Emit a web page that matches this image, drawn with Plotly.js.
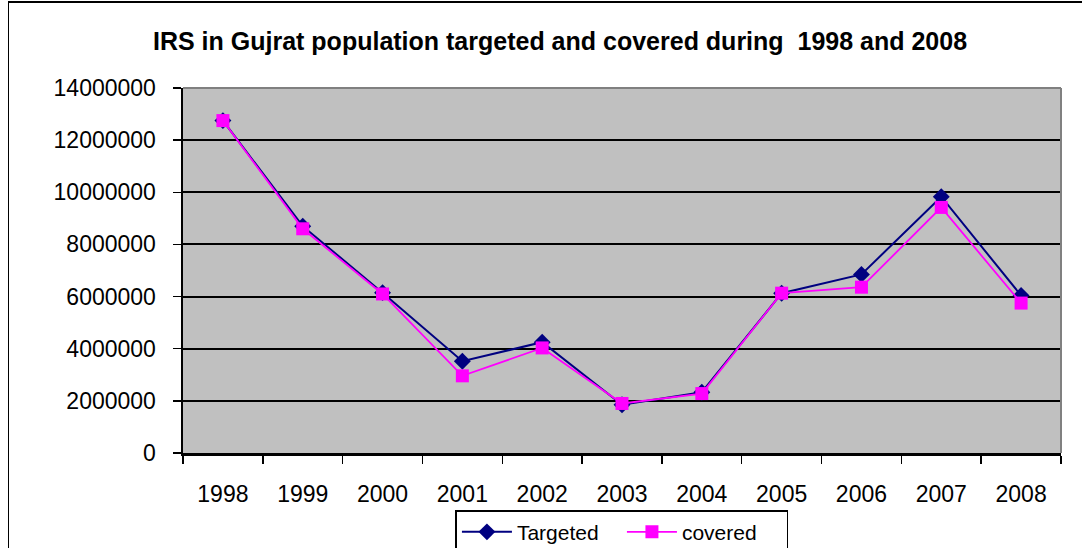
<!DOCTYPE html>
<html>
<head>
<meta charset="utf-8">
<script src="https://cdn.plot.ly/plotly-3.0.1.min.js"></script>
<style>
  html, body { margin: 0; padding: 0; background: #ffffff; }
  #wrap { position: relative; width: 1082px; height: 548px; overflow: hidden; }
  #chart { width: 1082px; height: 548px; }
  #frame { position: absolute; left: 8px; top: 1px; width: 1200px; height: 700px;
           border-left: 1.5px solid #000; border-top: 2px solid #000; pointer-events: none; }
</style>
</head>
<body>
<div id="wrap">
  <div id="chart"></div>
  <div id="frame"></div>
</div>
<script>
const years = ['1998','1999','2000','2001','2002','2003','2004','2005','2006','2007','2008'];
const targeted = [12750000, 8700000, 6150000, 3520000, 4250000, 1850000, 2330000, 6130000, 6850000, 9830000, 6040000];
const covered  = [12750000, 8600000, 6100000, 2960000, 4030000, 1900000, 2280000, 6130000, 6360000, 9420000, 5750000];
const yTicks = [0, 2000000, 4000000, 6000000, 8000000, 10000000, 12000000, 14000000];

const FONT = 'Liberation Sans, Arial, sans-serif';

const traces = [
  {
    x: years, y: targeted, name: 'Targeted', type: 'scatter', mode: 'lines+markers',
    line: { color: '#000080', width: 2 },
    marker: { symbol: 'diamond', size: 13, color: '#000080' }
  },
  {
    x: years, y: covered, name: 'covered', type: 'scatter', mode: 'lines+markers',
    line: { color: '#FF00FF', width: 1.8 },
    marker: { symbol: 'square', size: 13, color: '#FF00FF' }
  }
];

const layout = {
  width: 1082, height: 548,
  margin: { l: 183, r: 21, t: 88, b: 95 },
  paper_bgcolor: '#ffffff',
  plot_bgcolor: '#C0C0C0',
  font: { family: FONT, color: '#000', size: 22 },
  title: {
    text: '<b>IRS in Gujrat population targeted and covered during  1998 and 2008</b>',
    font: { family: FONT, size: 25, color: '#000' },
    xref: 'container', x: 0.5176, xanchor: 'center',
    yref: 'container', y: 0.925, yanchor: 'middle'
  },
  xaxis: {
    type: 'category',
    range: [-0.5, 10.5],
    tickvals: years,
    ticktext: years,
    tickson: 'boundaries',
    ticks: 'outside', ticklen: 8, tickwidth: 1.5, tickcolor: '#000',
    showline: true, linecolor: '#000', linewidth: 2.5,
    showgrid: false, zeroline: false,
    tickfont: { family: FONT, size: 23, color: '#000' },
    ticklabelstandoff: 19,
    mirror: false
  },
  yaxis: {
    range: [0, 14000000],
    tickvals: yTicks,
    tickformat: 'd',
    ticks: 'outside', ticklen: 8, tickwidth: 1.5, tickcolor: '#000',
    showline: true, linecolor: '#000', linewidth: 2.5,
    showgrid: true, gridcolor: '#000', gridwidth: 2,
    zeroline: false,
    tickfont: { family: FONT, size: 23, color: '#000' },
    ticklabelstandoff: 12
  },
  shapes: [
    { type: 'line', xref: 'paper', yref: 'paper', x0: 0, x1: 1, y0: 1, y1: 1, line: { color: '#808080', width: 2 } },
    { type: 'line', xref: 'paper', yref: 'paper', x0: 1, x1: 1, y0: 0, y1: 1, line: { color: '#808080', width: 2 } }
  ],
  showlegend: true,
  legend: {
    orientation: 'h',
    xref: 'container', yref: 'container',
    x: 0.5748, xanchor: 'center',
    y: 0.069, yanchor: 'top',
    bordercolor: '#000', borderwidth: 1.5, bgcolor: '#ffffff',
    font: { family: FONT, size: 21, color: '#000' },
    tracegroupgap: 0, itemwidth: 50, entrywidth: 100
  }
};

Plotly.newPlot('chart', traces, layout, { displayModeBar: false, staticPlot: true });
</script>
</body>
</html>
